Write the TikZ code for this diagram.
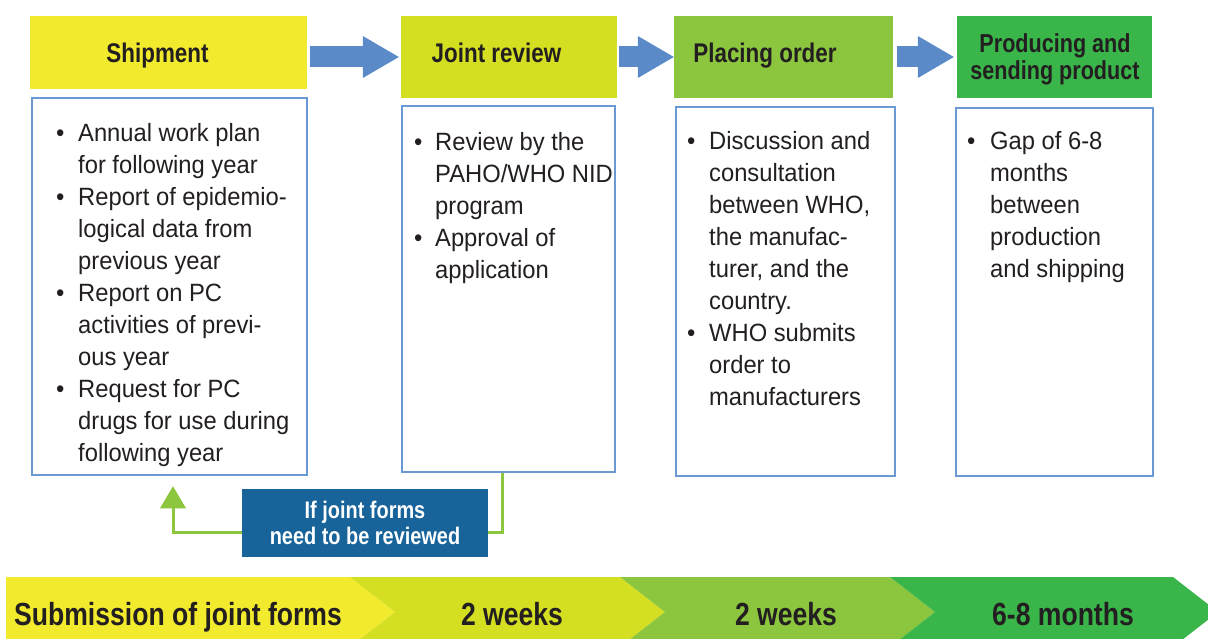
\documentclass[tikz,border=0pt]{standalone}
\usepackage{fontspec}
\setmainfont{Liberation Sans}
\newfontfamily\bodyf[FakeStretch=0.95]{Liberation Sans}
\newfontfamily\condf[FakeStretch=0.83]{Liberation Sans}
\usetikzlibrary{arrows.meta,calc}
\definecolor{cYa}{HTML}{F2EA2D}
\definecolor{cYb}{HTML}{D5DF22}
\definecolor{cGa}{HTML}{8CC63F}
\definecolor{cGb}{HTML}{39B54A}
\definecolor{cArr}{HTML}{5A8AC7}
\definecolor{cBord}{HTML}{6A99D3}
\definecolor{cFb}{HTML}{17639A}
\definecolor{cTxt}{HTML}{231F20}
\newcommand{\bl}{\textbullet}
\begin{document}
\begin{tikzpicture}[x=1pt,y=-1pt,
 hdr/.style={rectangle, inner sep=0pt, draw=none},
 htext/.style={inner sep=0pt, anchor=base, text=cTxt, font=\condf\bfseries\fontsize{27}{25}\selectfont},
 listbox/.style={rectangle, draw=cBord, line width=2.5pt, inner sep=0pt},
 listtext/.style={inner sep=0pt, anchor=base west, text=cTxt, font=\bodyf\fontsize{25}{32}\selectfont},
 blockarrow/.style={draw=cArr, line width=21pt, -{Triangle[width=42pt,length=36pt,line width=0pt]}},
 fbline/.style={draw=cGa, line width=3pt, -{Triangle[width=26pt,length=22pt,line width=0pt]}},
 fbbox/.style={fill=cFb, text=white, inner sep=0pt, align=center, font=\condf\bfseries\fontsize{24}{26}\selectfont},
 bartext/.style={inner sep=0pt, anchor=base, text=cTxt, font=\condf\bfseries\fontsize{32}{32}\selectfont}
]
\fill[white] (0,0) rectangle (1208,639);
\useasboundingbox (0,0) rectangle (1208,639);

% bottom timeline bar
\begin{scope}
\clip (0,0) rectangle (1208,639);
\fill[cYa] (6,577) -- (350,577) -- (395,612) -- (350,647) -- (6,647) -- cycle;
\fill[cYb] (350,577) -- (620,577) -- (665,612) -- (620,647) -- (350,647) -- (395,612) -- cycle;
\fill[cGa] (620,577) -- (890,577) -- (935,612) -- (890,647) -- (620,647) -- (665,612) -- cycle;
\fill[cGb] (890,577) -- (1173,577) -- (1218,612) -- (1173,647) -- (890,647) -- (935,612) -- cycle;
\end{scope}
\node[bartext, anchor=base west] (s1) at (14,625) {Submission of joint forms};
\node[bartext] (s2) at (512,625) {2 weeks};
\node[bartext] (s3) at (786,625) {2 weeks};
\node[bartext] (s4) at (1063,625) {6-8 months};

% headers
\node[hdr, fill=cYa, minimum width=277pt, minimum height=73pt] (h1) at (168.5,52.5) {};
\node[hdr, fill=cYb, minimum width=216pt, minimum height=82pt] (h2) at (509,57) {};
\node[hdr, fill=cGa, minimum width=219pt, minimum height=82pt] (h3) at (783.5,57) {};
\node[hdr, fill=cGb, minimum width=195pt, minimum height=82pt] (h4) at (1054.5,57) {};
\node[htext] (t1) at (157.5,63) {Shipment};
\node[htext] (t2) at (496.5,63) {Joint review};
\node[htext] (t3) at (765,63) {Placing order};
\node[htext, font=\condf\bfseries\fontsize{26}{25}\selectfont] (t4) at (1055,53) {\begin{tabular}[t]{@{}c@{}}Producing and\\sending product\end{tabular}};

% block arrows
\draw[blockarrow, shorten <=3pt, shorten >=2pt] (h1.east |- h2.west) -- (h2.west);
\draw[blockarrow, shorten <=2pt] (h2.east) -- (h3.west);
\draw[blockarrow, shorten <=4pt, shorten >=3pt] (h3.east) -- (h4.west);

% list boxes
\node[listbox, minimum width=275pt, minimum height=377pt] (b1) at (169.5,286.5) {};
\node[listbox, minimum width=213pt, minimum height=366pt] (b2) at (508.5,289) {};
\node[listbox, minimum width=219pt, minimum height=369pt] (b3) at (785.5,291.5) {};
\node[listbox, minimum width=197pt, minimum height=368pt] (b4) at (1054.5,292) {};

\node[listtext] (l1) at (56,142) {\begin{tabular}[t]{@{}p{22pt}@{}l@{}}
\bl & Annual work plan\\
 & for following year\\
\bl & Report of epidemio-\\
 & logical data from\\
 & previous year\\
\bl & Report on PC\\
 & activities of previ-\\
 & ous year\\
\bl & Request for PC\\
 & drugs for use during\\
 & following year
\end{tabular}};
\node[listtext] (l2) at (414,151) {\begin{tabular}[t]{@{}p{21pt}@{}l@{}}
\bl & Review by the\\
 & PAHO/WHO NID\\
 & program\\
\bl & Approval of\\
 & application
\end{tabular}};
\node[listtext] (l3) at (687,150) {\begin{tabular}[t]{@{}p{22pt}@{}l@{}}
\bl & Discussion and\\
 & consultation\\
 & between WHO,\\
 & the manufac-\\
 & turer, and the\\
 & country.\\
\bl & WHO submits\\
 & order to\\
 & manufacturers
\end{tabular}};
\node[listtext] (l4) at (967,150) {\begin{tabular}[t]{@{}p{23pt}@{}l@{}}
\bl & Gap of 6-8\\
 & months\\
 & between\\
 & production\\
 & and shipping
\end{tabular}};

% feedback loop
\coordinate (fbs) at ($(b2.south)+(-6.5,0)$);
\coordinate (fbe) at ($(b1.south)+(3.5,10)$);
\coordinate (fbt) at ($(fbe)+(0,46)$);
\draw[fbline] (fbs) |- (fbt) -- (fbe);
\node[fbbox, minimum width=246pt, minimum height=68pt] (fb) at (365,523) {If joint forms\\need to be reviewed};
\end{tikzpicture}
\end{document}
